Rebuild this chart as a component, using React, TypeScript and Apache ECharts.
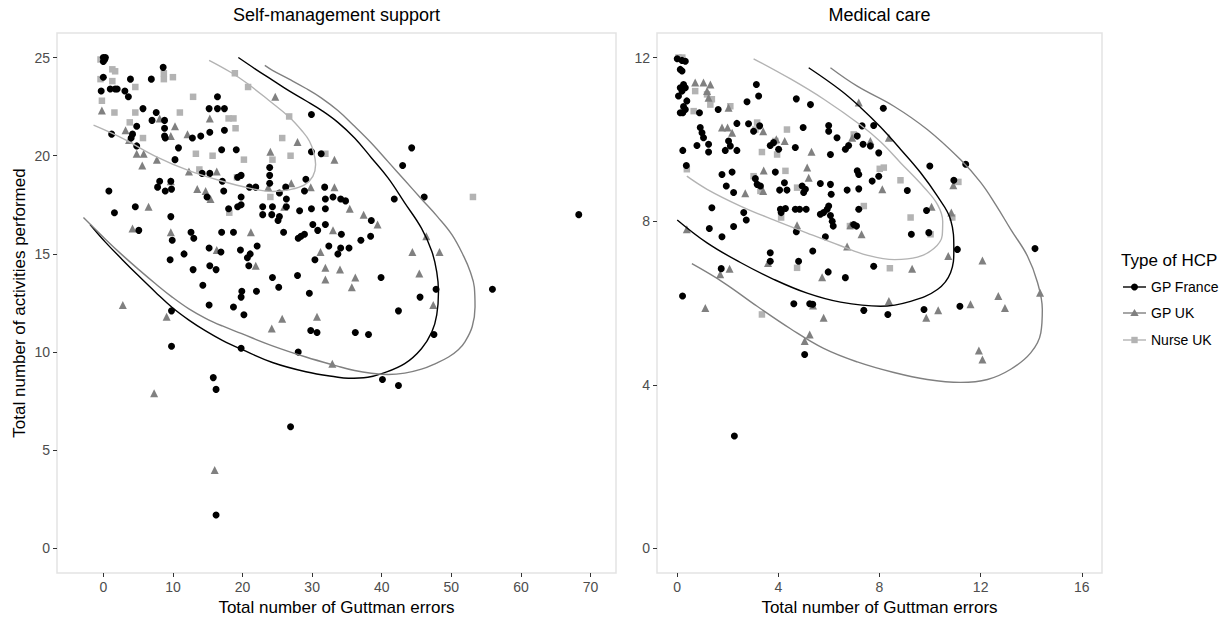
import React, { useEffect, useRef } from "react";
import * as echarts from "echarts";

const FONT = '"Liberation Sans", Arial, Helvetica, sans-serif';

const groups = ["GP France", "GP UK", "Nurse UK"];
const colors = ["#000000", "#808080", "#b3b3b3"];
const symbols = ["circle", "triangle", "rect"];
const symbolSizes = [7, 8, 6.5];

const panelTitles = ["Self-management support", "Medical care"];
const xName = "Total number of Guttman errors";
const yName = "Total number of activities performed";
const legendTitle = "Type of HCP";

const smsXTicks = [0, 10, 20, 30, 40, 50, 60, 70];
const smsYTicks = [0, 5, 10, 15, 20, 25];
const mcXTicks = [0, 4, 8, 12, 16];
const mcYTicks = [0, 4, 8, 12];

// ---- Self-management support: points [guttman errors, activities]
const smsGPFrance = [
  [0, 25], [0.3, 25], [0.2, 24.9], [0, 24.8], [0, 24.0], [-0.3, 23.3], [1.0, 23.4], [1.7, 23.4], [2.0, 23.4],
  [3.1, 23.3], [3.6, 23.0], [3.9, 23.9], [6.9, 23.9], [8.6, 24.5], [5.7, 22.4], [7.6, 22.2], [7.0, 21.8],
  [8.8, 21.8], [4.8, 21.5], [4.2, 21.1], [4.0, 20.9], [8.8, 21.4], [8.8, 21.0], [8.9, 20.9], [4.8, 20.5],
  [1.2, 21.1], [10.8, 20.4], [12.8, 20.9], [14.0, 21.0], [15.3, 21.2], [16.4, 23.0], [15.2, 22.4], [16.4, 22.4],
  [17.4, 22.4], [17.4, 21.3], [10.3, 19.8], [17.0, 20.3], [19.1, 20.3], [29.9, 22.1], [29.9, 20.2], [31.3, 20.1],
  [23.9, 19.4], [23.9, 19.0], [23.9, 18.6], [15.3, 19.1], [14.2, 19.1], [19.3, 18.9], [19.8, 19.0], [17.1, 18.7],
  [21.9, 18.4], [21.0, 18.4], [26.2, 18.4], [25.3, 18.1], [26.3, 17.8], [29.1, 18.8], [28.9, 18.2], [31.8, 18.4],
  [0.8, 18.2], [8.1, 18.7], [9.7, 18.7], [7.8, 18.4], [8.9, 18.2], [9.8, 18.3], [14.9, 17.9], [17.3, 18.2],
  [19.8, 17.9], [18.0, 17.3], [19.3, 17.4], [19.8, 17.5], [22.9, 17.4], [24.3, 17.4], [26.3, 17.4], [1.6, 17.1],
  [4.6, 17.4], [9.7, 16.9], [28.2, 17.2], [29.9, 17.3], [31.9, 17.3],
  [44.3, 20.4], [43.0, 19.5], [46.1, 17.9], [41.8, 17.8], [31.9, 17.8], [33.0, 17.9], [34.1, 17.8], [34.8, 17.7],
  [5.1, 16.2], [9.9, 15.7], [12.6, 16.1], [13.0, 15.8], [17.0, 16.1], [18.7, 16.1], [22.9, 17.0], [24.2, 17.0],
  [25.1, 16.7], [25.3, 16.9], [25.9, 16.1], [28.0, 15.8], [28.4, 15.9], [28.9, 16.0], [30.1, 16.5], [30.8, 16.2],
  [31.9, 16.5], [15.2, 15.3], [16.9, 15.1], [19.7, 15.2], [21.1, 15.0], [20.7, 14.8], [20.9, 14.4], [22.1, 15.4],
  [9.6, 14.7], [11.6, 15.0], [12.9, 14.2], [15.3, 14.4], [16.2, 14.2], [14.3, 13.4], [19.9, 13.1], [19.8, 12.8],
  [22.0, 13.1], [24.3, 13.8], [25.2, 13.3], [27.9, 13.9], [29.6, 13.0], [30.4, 14.7], [32.4, 15.4], [15.2, 12.4],
  [9.8, 12.1], [18.7, 12.3], [20.2, 11.9], [29.8, 11.1], [30.7, 11.0], [9.8, 10.3], [19.8, 10.2], [28.0, 10.0],
  [15.8, 8.7], [16.2, 8.1],
  [34.2, 16.0], [38.5, 16.7], [37.0, 15.7], [38.4, 15.9], [34.1, 15.3], [35.3, 15.3], [33.7, 15.0], [39.9, 13.8],
  [45.5, 12.8], [47.8, 13.2], [42.4, 12.1], [36.2, 11.0], [38.1, 10.9], [47.5, 10.9], [40.1, 8.6], [42.4, 8.3],
  [55.9, 13.2], [68.3, 17.0], [26.9, 6.2], [16.2, 1.7],
];

const smsGPUK = [
  [-0.2, 22.3], [8.1, 21.9], [10.3, 21.5], [9.7, 21.0], [15.3, 21.9], [24.7, 23.0], [3.2, 21.3], [3.7, 20.8],
  [12.1, 21.1], [4.8, 20.1], [5.8, 20.1], [7.7, 19.8], [5.6, 19.5], [12.3, 19.2], [16.3, 19.2], [24.0, 20.2],
  [27.9, 20.7], [27.0, 18.6], [23.7, 18.4], [13.5, 18.3], [14.7, 18.2], [15.4, 17.8], [9.7, 18.7], [29.8, 18.4],
  [6.5, 17.4], [26.0, 17.4], [33.2, 19.8], [33.2, 18.4],
  [4.2, 16.3], [9.7, 16.1], [16.3, 15.2], [21.2, 16.1], [21.9, 14.4], [31.2, 15.1], [31.9, 14.3], [31.9, 13.7],
  [33.0, 16.2], [2.8, 12.4], [9.1, 11.8], [25.7, 11.7], [24.2, 11.2], [30.7, 11.8], [32.9, 9.4], [7.3, 7.9],
  [35.4, 17.3], [37.4, 17.0], [39.4, 16.5], [34.0, 14.2], [36.2, 13.8], [35.7, 13.3], [44.4, 15.1], [48.3, 15.1],
  [45.4, 14.0], [46.4, 15.9], [47.4, 12.4], [16.0, 4.0],
];

const smsNurseUK = [
  [-0.4, 24.9], [1.3, 24.4], [1.7, 24.3], [-0.4, 23.9], [1.3, 23.8], [-0.2, 22.8], [4.6, 23.5], [8.7, 23.9],
  [8.7, 24.2], [10.0, 24.0], [12.9, 23.0], [1.6, 22.2], [4.6, 22.2], [11.0, 22.2], [3.8, 21.7], [18.0, 21.9],
  [18.7, 21.9], [19.0, 21.4], [18.9, 24.2], [20.8, 23.5], [26.7, 22.0], [5.7, 20.9], [13.3, 20.1], [15.7, 20.0],
  [20.2, 19.8], [25.7, 20.9], [26.9, 20.0], [24.3, 19.8], [31.9, 20.1], [19.2, 18.9], [24.0, 17.9], [18.1, 17.1],
  [13.8, 19.3], [53.1, 17.9],
];

// ---- Self-management support: 95% ellipse outlines (clipped by the scales)
const smsEllGPFrance = [
  [-1.9, 16.5], [0.3, 15.6], [2.7, 14.72], [5.1, 13.87], [7.5, 13.05], [9.9, 12.27], [12.3, 11.63],
  [14.7, 11.08], [17.1, 10.6], [19.8, 10.15], [24.3, 9.47], [29.1, 9.0], [33.5, 8.73], [35.2, 8.67],
  [38.0, 8.72], [40.0, 8.9], [43.3, 9.41], [45.7, 10.17], [47.2, 11.03], [47.9, 11.9], [48.15, 13.07],
  [47.9, 14.09], [47.2, 15.12], [45.7, 16.31], [43.3, 17.6], [40.9, 18.87], [38.5, 19.9], [36.1, 20.9],
  [33.7, 21.7], [31.4, 22.3], [29.1, 22.8], [26.7, 23.3], [24.3, 23.85], [21.9, 24.4], [19.4, 25.0],
];
const smsEllGPUK = [
  [-2.85, 16.85], [0.3, 15.75], [2.7, 14.95], [5.1, 14.2], [7.5, 13.48], [9.9, 12.8], [12.3, 12.2],
  [14.7, 11.72], [17.1, 11.33], [19.8, 10.95], [24.3, 10.32], [29.1, 9.75], [33.5, 9.3], [36.1, 9.06],
  [38.5, 8.92], [40.9, 8.86], [43.3, 8.93], [45.7, 9.13], [47.8, 9.43], [49.6, 9.75], [51.0, 10.12],
  [52.0, 10.55], [53.0, 11.3], [53.4, 12.3], [53.3, 13.3], [52.7, 14.1], [51.8, 14.86], [50.1, 15.97],
  [48.0, 16.9], [45.7, 17.8], [43.3, 18.75], [40.9, 19.7], [38.5, 20.65], [36.1, 21.5], [33.7, 22.3],
  [31.3, 22.95], [29.0, 23.45], [26.7, 23.9], [24.3, 24.35], [23.2, 24.6],
];
const smsEllNurseUK = [
  [-1.4, 21.56], [2.7, 20.9], [7.5, 19.97], [12.3, 19.24], [17.1, 18.7], [21.0, 18.35], [24.3, 18.18],
  [26.7, 18.27], [28.9, 18.52], [30.1, 18.95], [30.5, 19.55], [30.2, 20.2], [29.6, 20.75], [28.7, 21.2],
  [26.7, 21.97], [23.85, 22.8], [20.8, 23.65], [18.3, 24.25], [15.2, 24.86],
];

// ---- Medical care: points
const mcGPFrance = [
  [0.0, 11.97], [0.19, 11.93], [0.32, 11.91], [0.12, 11.71], [0.19, 11.67], [0.25, 11.34], [0.12, 11.26],
  [0.32, 11.26], [0.19, 11.18], [0.05, 11.06], [0.38, 10.94], [0.25, 10.8], [0.32, 10.73], [0.12, 10.65],
  [0.22, 10.65], [0.88, 10.65], [1.62, 10.73], [2.76, 10.92], [3.22, 11.06], [3.13, 11.34], [4.71, 10.99],
  [5.27, 10.85], [0.91, 10.29], [0.98, 10.16], [1.04, 10.04], [0.78, 9.85], [1.24, 9.88], [1.24, 9.69],
  [0.22, 9.73], [0.36, 9.36], [1.9, 9.73], [2.03, 9.96], [2.1, 9.84], [2.36, 9.73], [2.36, 10.39], [2.82, 10.38],
  [3.02, 10.2], [3.26, 10.33], [3.68, 9.85], [3.81, 9.92], [4.01, 9.76], [4.67, 9.8], [4.98, 10.29], [5.99, 10.34],
  [5.99, 10.2], [6.32, 10.04], [6.65, 9.76], [6.78, 9.85], [7.12, 10.08], [6.06, 9.63], [7.35, 9.88], [7.64, 9.84],
  [7.77, 10.34], [7.31, 10.33], [7.97, 9.67], [1.77, 9.14], [2.17, 9.2], [1.94, 8.86], [2.23, 8.7], [3.09, 9.04],
  [3.16, 8.9], [3.29, 8.86], [3.88, 9.2], [4.05, 8.76], [4.34, 8.76], [4.24, 8.94], [4.94, 8.86], [5.0, 8.7],
  [5.07, 8.78], [5.66, 8.92], [6.06, 8.9], [6.09, 8.66], [6.72, 8.76], [7.18, 8.79], [7.12, 9.23], [7.18, 9.14],
  [7.71, 8.98], [7.97, 9.1], [1.37, 8.33], [2.63, 8.21], [7.18, 8.29],
  [8.15, 10.76], [9.99, 9.35], [11.41, 9.39], [10.94, 9.0], [9.1, 8.75], [9.86, 8.26],
  [2.73, 8.03], [4.11, 8.21], [4.08, 8.29], [4.28, 8.31], [4.67, 8.29], [4.84, 8.29], [5.1, 8.29], [5.66, 8.17],
  [5.79, 8.21], [5.93, 8.29], [6.06, 8.14], [6.13, 8.0], [6.17, 7.88], [5.99, 8.37], [1.27, 7.82], [1.77, 7.62],
  [2.23, 7.87], [4.71, 7.74], [5.86, 7.62], [6.98, 7.92], [7.09, 7.88], [3.68, 7.23], [3.68, 7.02], [4.8, 7.02],
  [5.36, 7.27], [1.74, 6.84], [5.97, 6.76], [6.65, 6.62], [7.77, 6.9], [0.21, 6.17], [4.61, 5.98], [5.24, 5.98],
  [5.36, 5.97], [7.38, 5.82], [5.04, 4.74], [2.26, 2.75],
  [9.26, 7.68], [9.95, 7.72], [11.08, 7.31], [14.15, 7.33], [8.33, 5.72], [9.76, 5.84], [11.18, 5.92],
];

const mcGPUK = [
  [0.71, 11.39], [1.04, 11.39], [1.31, 11.34], [1.18, 11.18], [1.24, 11.02], [2.03, 10.77], [1.77, 10.29],
  [1.99, 10.29], [2.17, 10.16], [3.4, 10.2], [4.25, 9.96], [5.31, 9.7], [3.42, 9.24], [5.14, 9.31], [5.2, 9.06],
  [2.69, 8.68], [3.4, 8.74], [7.18, 10.9], [6.92, 10.04], [3.92, 10.0],
  [8.37, 10.04], [8.11, 8.78], [10.92, 8.88], [10.06, 8.35], [10.84, 8.21], [7.64, 9.96],
  [4.74, 7.9], [6.85, 7.9], [7.29, 7.68], [6.72, 7.38], [3.59, 6.98], [2.07, 6.84], [1.7, 6.7], [5.73, 6.63],
  [1.11, 5.88], [5.37, 5.94], [5.79, 5.64], [5.24, 5.23], [5.04, 5.07], [0.38, 7.8],
  [10.72, 7.15], [12.07, 7.04], [9.29, 6.84], [8.37, 6.05], [10.32, 5.82], [9.85, 5.64], [11.6, 5.97],
  [12.7, 6.17], [12.96, 5.88], [14.35, 6.25], [11.93, 4.84], [12.07, 4.62],
];

const mcNurseUK = [
  [0.05, 12.0], [0.2, 12.0], [0.71, 11.18], [1.18, 11.1], [1.37, 10.98], [1.31, 10.85], [0.65, 10.69],
  [2.1, 10.81], [3.16, 10.41], [3.09, 10.24], [4.34, 10.24], [3.88, 9.96], [3.95, 9.63], [3.35, 9.69],
  [4.28, 9.23], [3.02, 9.1], [3.29, 8.74], [4.74, 8.82], [7.38, 8.37], [0.38, 9.27], [6.98, 10.12],
  [8.01, 9.28], [8.17, 9.31], [8.83, 9.0], [11.12, 8.96], [9.23, 8.09],
  [4.11, 8.09], [4.74, 6.86], [3.35, 5.72], [6.83, 7.88], [8.41, 6.85], [10.02, 7.68], [10.88, 8.09],
];

// ---- Medical care: ellipse outlines
const mcEllGPFrance = [
  [0.0, 8.03], [1.18, 7.47], [2.5, 6.99], [3.81, 6.58], [5.14, 6.24], [6.46, 6.02], [8.04, 5.92], [9.23, 6.04],
  [10.29, 6.33], [10.81, 6.74], [10.94, 7.31], [10.81, 8.04], [10.29, 8.61], [9.62, 9.19], [8.83, 9.76],
  [8.04, 10.3], [7.25, 10.78], [6.46, 11.2], [5.2, 11.75],
];
const mcEllGPUK = [
  [0.58, 6.96], [1.83, 6.5], [3.16, 5.92], [4.48, 5.37], [5.79, 4.89], [7.12, 4.56], [8.57, 4.3], [9.89, 4.13],
  [11.21, 4.06], [12.27, 4.13], [13.19, 4.38], [13.98, 4.78], [14.38, 5.27], [14.44, 5.84], [14.25, 6.5],
  [13.85, 7.15], [13.19, 7.8], [12.6, 8.4], [12.0, 8.95], [11.21, 9.5], [9.89, 10.24], [8.57, 10.81],
  [7.12, 11.3], [6.06, 11.75],
];
const mcEllNurseUK = [
  [0.38, 9.1], [1.18, 8.78], [2.5, 8.37], [3.81, 8.03], [5.14, 7.71], [6.46, 7.4], [7.5, 7.17], [8.6, 7.06],
  [9.5, 7.12], [10.15, 7.33], [10.48, 7.65], [10.5, 8.0], [10.3, 8.4], [9.8, 8.8], [8.83, 9.43], [8.04, 9.94],
  [7.25, 10.35], [5.8, 10.98], [4.5, 11.47], [3.02, 11.97],
];

const smsPoints = [smsGPFrance, smsGPUK, smsNurseUK];
const smsEllipses = [smsEllGPFrance, smsEllGPUK, smsEllNurseUK];
const mcPoints = [mcGPFrance, mcGPUK, mcNurseUK];
const mcEllipses = [mcEllGPFrance, mcEllGPUK, mcEllNurseUK];

function axisCommon(ticks: number[]) {
  return {
    type: "value" as const,
    splitLine: { show: false },
    axisLine: { show: false, onZero: false },
    axisTick: { show: true, length: 4, lineStyle: { color: "#333333", width: 1 }, customValues: ticks },
    axisLabel: { customValues: ticks, color: "#4d4d4d", fontSize: 14, fontFamily: FONT, margin: 7 },
  };
}

function buildSeries(points: number[][][], ellipses: number[][][], idx: number) {
  const out: any[] = [];
  // lighter groups first so black dots sit on top
  [2, 1, 0].forEach((g) => {
    out.push({
      type: "scatter",
      name: groups[g],
      xAxisIndex: idx,
      yAxisIndex: idx,
      data: points[g],
      symbol: symbols[g],
      symbolSize: symbolSizes[g],
      itemStyle: { color: colors[g], opacity: 1 },
      silent: true,
      z: 2,
    });
  });
  [0, 1, 2].forEach((g) => {
    out.push({
      type: "line",
      name: groups[g] + " ellipse",
      xAxisIndex: idx,
      yAxisIndex: idx,
      data: ellipses[g],
      showSymbol: false,
      symbol: "none",
      smooth: 0.4,
      lineStyle: { color: colors[g], width: 1.4 },
      silent: true,
      z: 3,
    });
  });
  return out;
}

function legendGraphics() {
  const els: any[] = [
    {
      type: "text",
      x: 1121,
      y: 260,
      style: { text: legendTitle, fontSize: 17, fontFamily: FONT, fill: "#000", align: "left", verticalAlign: "middle" },
    },
  ];
  const ys = [287, 313, 340];
  groups.forEach((g, i) => {
    const y = ys[i];
    const cx = 1134.5;
    els.push({ type: "line", shape: { x1: 1123, y1: y, x2: 1146, y2: y }, style: { stroke: colors[i], lineWidth: 1.4 } });
    if (symbols[i] === "circle") {
      els.push({ type: "circle", shape: { cx, cy: y, r: 3.5 }, style: { fill: colors[i] } });
    } else if (symbols[i] === "triangle") {
      els.push({
        type: "polygon",
        shape: { points: [[cx, y - 4], [cx + 4.2, y + 3], [cx - 4.2, y + 3]] },
        style: { fill: colors[i] },
      });
    } else {
      els.push({ type: "rect", shape: { x: cx - 3.2, y: y - 3.2, width: 6.4, height: 6.4 }, style: { fill: colors[i] } });
    }
    els.push({
      type: "text",
      x: 1151,
      y,
      style: { text: g, fontSize: 14, fontFamily: FONT, fill: "#000", align: "left", verticalAlign: "middle" },
    });
  });
  return els;
}

export default function App() {
  const ref = useRef<HTMLDivElement>(null);
  useEffect(() => {
    if (!ref.current) return;
    const chart = echarts.init(ref.current, undefined, { renderer: "svg" });
    const gridStyle = { show: true, borderColor: "#e3e3e3", borderWidth: 1.5, backgroundColor: "#ffffff" };
    const option: any = {
      animation: false,
      backgroundColor: "#ffffff",
      grid: [
        { left: 57, top: 33, width: 559, height: 540, ...gridStyle },
        { left: 657, top: 33, width: 445, height: 540, ...gridStyle },
      ],
      xAxis: [
        {
          ...axisCommon(smsXTicks),
          gridIndex: 0,
          min: -6.65,
          max: 73.65,
          name: xName,
          nameLocation: "middle",
          nameGap: 25,
          nameTextStyle: { fontSize: 17, color: "#000", fontFamily: FONT, verticalAlign: "top" },
        },
        {
          ...axisCommon(mcXTicks),
          gridIndex: 1,
          min: -0.8,
          max: 16.8,
          name: xName,
          nameLocation: "middle",
          nameGap: 25,
          nameTextStyle: { fontSize: 17, color: "#000", fontFamily: FONT, verticalAlign: "top" },
        },
      ],
      yAxis: [
        {
          ...axisCommon(smsYTicks),
          gridIndex: 0,
          min: -1.25,
          max: 26.25,
          name: yName,
          nameLocation: "middle",
          nameGap: 29,
          nameTextStyle: { fontSize: 17, color: "#000", fontFamily: FONT },
        },
        {
          ...axisCommon(mcYTicks),
          gridIndex: 1,
          min: -0.6,
          max: 12.6,
        },
      ],
      graphic: [
        {
          type: "text",
          x: 336.5,
          y: 15,
          style: { text: panelTitles[0], fontSize: 18, fontFamily: FONT, fill: "#000", align: "center", verticalAlign: "middle" },
        },
        {
          type: "text",
          x: 879.5,
          y: 15,
          style: { text: panelTitles[1], fontSize: 18, fontFamily: FONT, fill: "#000", align: "center", verticalAlign: "middle" },
        },
        ...legendGraphics(),
      ],
      series: [...buildSeries(smsPoints, smsEllipses, 0), ...buildSeries(mcPoints, mcEllipses, 1)],
    };
    chart.setOption(option);
    return () => chart.dispose();
  }, []);
  return (
    <div
      ref={ref}
      style={{ position: "absolute", left: 0, top: 0, width: 1230, height: 625, background: "#fff" }}
    />
  );
}
